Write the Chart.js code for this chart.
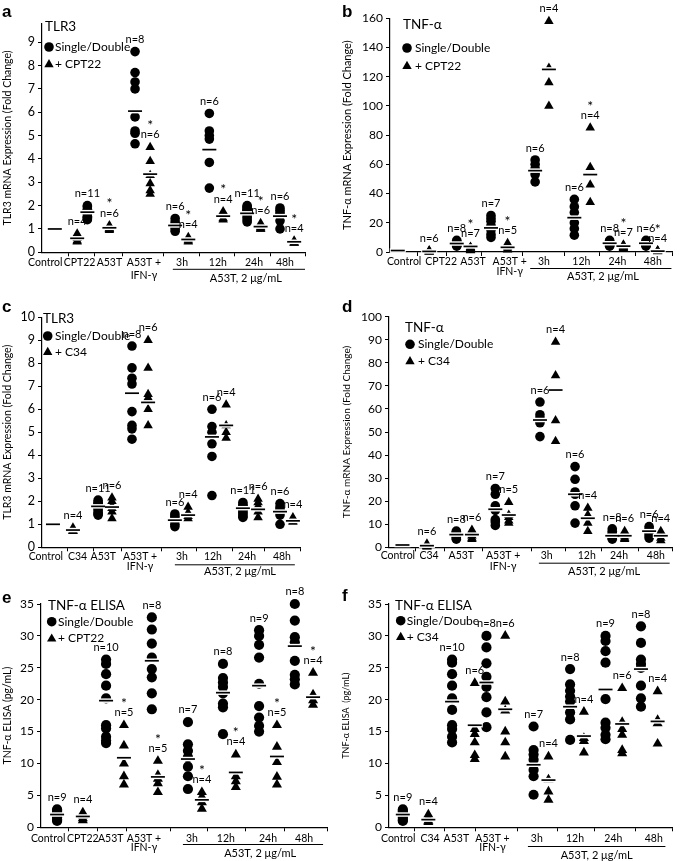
<!DOCTYPE html>
<html>
<head>
<meta charset="utf-8">
<script src="https://cdn.jsdelivr.net/npm/chart.js@4.4.1/dist/chart.umd.min.js"></script>
<style>
  html, body { margin: 0; padding: 0; background: #fff; }
  #wrap { position: relative; width: 685px; height: 861px; overflow: hidden; }
  canvas { position: absolute; }
</style>
</head>
<body>
<div id="wrap">
  <canvas id="pa" style="left:0;top:0"     width="340" height="292"></canvas>
  <canvas id="pb" style="left:340px;top:0" width="345" height="292"></canvas>
  <canvas id="pc" style="left:0;top:285px" width="340" height="295"></canvas>
  <canvas id="pd" style="left:340px;top:285px" width="345" height="295"></canvas>
  <canvas id="pe" style="left:0;top:570px" width="340" height="291"></canvas>
  <canvas id="pf" style="left:340px;top:570px" width="345" height="291"></canvas>
</div>
<script>
// ─── 카테고리 ─────────────────────────────────────────────
const catsCPT = ['Control', 'CPT22', 'A53T', ['A53T +', 'IFN-γ'], '3h', '12h', '24h', '48h'];
const catsC34 = ['Control', 'C34', 'A53T', ['A53T +', 'IFN-γ'], '3h', '12h', '24h', '48h'];
const groupTitle = 'A53T, 2 μg/mL';

// ─── a: TLR3 + CPT22 ──────────────────────────────────────
const aCirc = [[], [],
  [2.0, 1.95, 1.85, 1.8, 1.75, 1.7, 1.65, 1.55, 1.5, 1.45, 1.4],
  [8.6, 7.7, 7.3, 7.0, 5.8, 5.2, 5.1, 4.65],
  [1.45, 1.3, 1.2, 1.1, 1.0, 0.9],
  [5.95, 5.2, 5.0, 4.85, 3.85, 2.75],
  [2.0, 1.95, 1.9, 1.85, 1.8, 1.75, 1.7, 1.6, 1.5, 1.4, 1.3],
  [1.9, 1.8, 1.7, 1.6, 1.35, 1.0]];
const aTri = [[],
  [0.8, 0.6, 0.5, 0.45],
  [1.15, 1.1, 1.05, 1.0, 1.0, 0.95],
  [4.5, 3.9, 3.3, 2.95, 2.65, 2.5],
  [0.65, 0.55, 0.5, 0.45],
  [1.75, 1.6, 1.45, 1.4],
  [1.25, 1.15, 1.1, 1.05, 1.0, 1.0],
  [0.5, 0.45, 0.4, 0.4]];
const aCircMean = [1.0, null, 1.72, 6.05, 1.15, 4.4, 1.67, 1.55];
const aTriMean  = [null, 0.6, 1.05, 3.35, 0.55, 1.55, 1.1, 0.45];
const aCircN = ['', '', 'n=11', 'n=8', 'n=6', 'n=6', 'n=11', 'n=6'];
const aTriN  = ['', 'n=4', 'n=6', 'n=6', 'n=4', 'n=4', 'n=6', 'n=4'];
const aStar  = [0, 0, 1, 1, 1, 1, 1, 1];
const aCircX = [0.39, null, 1.38, 2.83, 4.05, 5.09, 6.24, 7.24];
const aTriX  = [null, 1.07, 2.05, 3.29, 4.45, 5.51, 6.65, 7.67];
const aLabelX = [0.1, 1.14, 2.05, 3.1, 4.26, 5.35, 6.45, 7.39];
const aTickX  = [0.8, 1.6, 2.45, 3.7, 4.78, 5.87, 6.94, 8];

// ─── b: TNF-α + CPT22 ─────────────────────────────────────
const bCirc = [[], [],
  [8, 7, 6.5, 6, 5.5, 5, 4.5, 4],
  [25, 23, 21, 18, 15, 12, 10],
  [63, 60, 57, 55, 53, 48],
  [36, 31, 27, 20, 16, 11.5],
  [8, 7, 6.5, 6, 5.5, 5, 4.5, 4],
  [8, 7, 6, 5, 4.5, 4]];
const bTri = [[],
  [1.0, 0.6, 0.4, 0.3, 0.2, 0.1],
  [3.5, 3, 2.5, 2, 1.5, 1.2, 1],
  [6, 4, 3, 2, 1.5],
  [158, 126, 116, 100],
  [85, 58, 46, 34],
  [5, 4.5, 4, 3.5, 3, 2.5, 2],
  [1, 0.8, 0.5, 0.3]];
const bCircMean = [1, null, 5.8, 16.5, 55.7, 23.5, 6, 6];
const bTriMean  = [null, 0.4, 3.8, 3.2, 125, 53, 4, 0.6];
const bCircN = ['', '', 'n=8', 'n=7', 'n=6', 'n=6', 'n=8', 'n=6'];
const bTriN  = ['', 'n=6', 'n=7', 'n=5', 'n=4', 'n=4', 'n=7', 'n=4'];
const bStar  = [0, 0, 1, 1, 1, 1, 1, 1];
const bCircX = [0.22, null, 1.89, 2.86, 4.11, 5.22, 6.22, 7.25];
const bTriX  = [null, 1.11, 2.28, 3.33, 4.5, 5.67, 6.61, 7.58];
const bLabelX = [0.4, 1.45, 2.35, 3.39, 4.36, 5.42, 6.44, 7.44];
const bTickX  = [0.78, 1.61, 2.58, 3.75, 4.94, 5.94, 6.94, 8];

// ─── c: TLR3 + C34 ────────────────────────────────────────
const cCirc = [[], [],
  [2.05, 1.95, 1.9, 1.85, 1.8, 1.75, 1.7, 1.6, 1.5, 1.45, 1.4],
  [8.75, 7.8, 7.35, 7.1, 5.9, 5.3, 5.15, 4.7],
  [1.45, 1.35, 1.25, 1.15, 1.0, 0.9],
  [6.0, 5.25, 5.0, 4.5, 3.95, 2.25],
  [1.95, 1.85, 1.8, 1.75, 1.7, 1.65, 1.6, 1.5, 1.45, 1.35, 1.3],
  [1.9, 1.75, 1.65, 1.55, 1.4, 1.0]];
const cTri = [[],
  [0.85, 0.75, 0.7, 0.7],
  [2.15, 2.0, 1.8, 1.7, 1.55, 1.25],
  [9.0, 7.8, 6.65, 6.5, 6.0, 5.3],
  [1.75, 1.5, 1.35, 1.25],
  [6.2, 5.3, 5.0, 4.75],
  [2.1, 1.95, 1.8, 1.7, 1.55, 1.3],
  [1.3, 1.2, 1.15, 1.1]];
const cCircMean = [1, null, 1.78, 6.7, 1.18, 4.8, 1.7, 1.55];
const cTriMean  = [null, 0.75, 1.75, 6.3, 1.4, 5.3, 1.65, 1.15];
const cCircN = ['', '', 'n=11', 'n=8', 'n=6', 'n=6', 'n=11', 'n=6'];
const cTriN  = ['', 'n=4', 'n=6', 'n=6', 'n=4', 'n=4', 'n=6', 'n=4'];
const cStar  = [0, 0, 0, 0, 0, 0, 0, 0];
const cCircX = [0.34, null, 1.74, 2.79, 4.12, 5.27, 6.23, 7.38];
const cTriX  = [null, 0.96, 2.17, 3.29, 4.53, 5.71, 6.7, 7.78];
const cLabelX = [0.12, 1.1, 1.9, 3.04, 4.34, 5.3, 6.36, 7.44];
const cTickX  = [0.8, 1.6, 2.45, 3.7, 4.8, 5.9, 6.9, 8];

// ─── d: TNF-α + C34 ───────────────────────────────────────
const dCirc = [[], [],
  [7, 6.5, 6, 5.5, 5, 4.5, 4, 3.5],
  [25.5, 23, 18, 16, 12, 11, 9.5],
  [63, 57.5, 56, 55, 54, 48],
  [35, 29.5, 24, 23, 18, 10.5],
  [8, 7, 6, 5.5, 5, 4.5, 4, 3.5],
  [9, 8, 7, 6, 5, 4]];
const dTri = [[],
  [1.5, 1, 0.8, 0.5, 0.3, 0.2],
  [7.5, 7, 6, 5, 4, 3.5],
  [19.5, 14, 13, 11.5, 10.5],
  [89, 74.5, 55, 46],
  [17, 14, 10.5, 7],
  [7, 6, 5.5, 5, 4, 3.5],
  [7, 6, 4, 3]];
const dCircMean = [1, null, 5.5, 16.5, 55.2, 23, 5, 7];
const dTriMean  = [null, 0.7, 5.5, 14, 68.2, 12.6, 5, 5];
const dCircN = ['', '', 'n=8', 'n=7', 'n=6', 'n=6', 'n=8', 'n=6'];
const dTriN  = ['', 'n=6', 'n=6', 'n=5', 'n=4', 'n=4', 'n=6', 'n=4'];
const dStar  = [0, 0, 0, 0, 0, 0, 0, 0];
const dCircX = [0.38, null, 1.9, 3.0, 4.26, 5.25, 6.3, 7.34];
const dTriX  = [null, 1.07, 2.34, 3.38, 4.7, 5.61, 6.65, 7.67];
const dLabelX = [0.25, 1.13, 2.04, 3.22, 4.45, 5.58, 6.49, 7.53];
const dTickX  = [0.74, 1.57, 2.64, 4.01, 4.98, 5.99, 7.04, 8];

// ─── e: TNF-α ELISA + CPT22 ───────────────────────────────
const eCirc = [
  [2.8, 2.6, 2.4, 2.2, 2.0, 1.8, 1.5, 1.2, 1.0],
  [],
  [26.3, 25.6, 24.0, 22.2, 20.2, 16.0, 15.5, 14.2, 13.6, 13.2],
  [32.9, 31.0, 28.8, 26.6, 24.8, 23.5, 21.0, 18.5],
  [16.5, 13.0, 12.0, 11.0, 9.5, 8.0, 6.0],
  [25.6, 23.4, 22.7, 22.0, 21.0, 19.4, 18.8, 14.6],
  [30.9, 30.0, 28.6, 26.6, 22.5, 19.0, 17.2, 15.9, 15.0],
  [35.0, 32.4, 29.8, 29.0, 26.1, 23.9, 23.2, 22.4]];
const eTri = [[],
  [2.3, 1.8, 1.4, 1.1],
  [16.0, 12.8, 10.0, 8.0, 6.7],
  [10.4, 8.2, 7.6, 6.9, 5.5],
  [5.5, 4.8, 3.9, 2.9],
  [11.4, 8.0, 7.2, 6.3],
  [16.0, 12.6, 10.2, 7.9, 6.7],
  [24.2, 20.8, 19.9, 19.2]];
const eCircMean = [2.0, null, 19.85, 26.1, 10.7, 21.1, 22.2, 28.4];
const eTriMean  = [null, 1.7, 10.9, 7.9, 4.3, 8.6, 11.1, 20.4];
const eCircN = ['n=9', '', 'n=10', 'n=8', 'n=7', 'n=8', 'n=9', 'n=8'];
const eTriN  = ['', 'n=4', 'n=5', 'n=5', 'n=4', 'n=4', 'n=5', 'n=4'];
const eStar  = [0, 0, 1, 1, 1, 1, 1, 1];
const eCircX = [0.45, null, 1.82, 3.1, 4.11, 5.09, 6.1, 7.1];
const eTriX  = [null, 1.17, 2.32, 3.27, 4.5, 5.45, 6.6, 7.61];
const eLabelX = [0.2, 1.17, 1.95, 2.88, 4.22, 5.17, 6.35, 7.36];
const eTickX  = [0.76, 1.57, 2.38, 3.61, 4.67, 5.71, 6.82, 8];

// ─── f: TNF-α ELISA + C34 ─────────────────────────────────
const fCirc = [
  [2.8, 2.6, 2.4, 2.2, 2.0, 1.8, 1.5, 1.2, 1.0],
  [],
  [26.3, 25.8, 24.0, 22.2, 20.2, 18.4, 16.0, 15.4, 14.2, 13.3],
  [30.0, 28.2, 25.7, 23.6, 22.0, 20.4, 18.0, 15.7],
  [15.8, 12.1, 11.4, 10.6, 9.0, 8.0, 5.1],
  [24.8, 22.4, 21.4, 20.5, 19.7, 18.0, 16.9, 13.7],
  [30.0, 29.2, 27.6, 25.8, 20.1, 16.4, 15.6, 14.5, 13.8],
  [31.5, 28.9, 26.3, 25.6, 25.0, 22.2, 20.2, 18.9]];
const fTri = [[],
  [2.0, 1.5, 1.0, 0.8],
  [22.6, 15.4, 14.6, 13.3, 11.3, 10.7],
  [30.0, 19.7, 18.3, 15.0, 13.3, 11.1],
  [11.1, 7.5, 5.6, 4.3],
  [18.1, 14.0, 13.5, 11.7],
  [21.8, 16.5, 15.4, 14.5, 12.1, 11.6],
  [21.3, 16.8, 16.3, 13.1]];
const fCircMean = [2.0, null, 19.7, 22.7, 9.8, 18.9, 21.6, 24.8];
const fTriMean  = [null, 1.2, 16.0, 18.5, 7.4, 14.3, 16.2, 16.6];
const fCircN = ['n=9', '', 'n=10', 'n=8', 'n=7', 'n=8', 'n=9', 'n=8'];
const fTriN  = ['', 'n=4', 'n=6', 'n=6', 'n=4', 'n=4', 'n=6', 'n=4'];
const fStar  = [0, 0, 0, 0, 0, 0, 0, 0];
const fCircX = [0.39, null, 1.78, 2.75, 4.08, 5.11, 6.11, 7.11];
const fTriX  = [null, 1.11, 2.42, 3.28, 4.5, 5.5, 6.58, 7.58];
const fLabelX = [0.26, 1.16, 1.9, 2.92, 4.17, 5.25, 6.33, 7.47];
const fTickX  = [0.72, 1.56, 2.44, 3.64, 4.75, 5.81, 6.97, 8];

// ─────────────────────────────────────────────────────────
const FONT = 'Lato, "Open Sans", sans-serif';

// 그룹별 점 → {x, y}
function pts(groups, xs) {
  const out = [];
  groups.forEach((vals, g) => vals.forEach(v => out.push({ x: xs[g], y: v })));
  return out;
}
function meanPts(ms, xs) {
  return ms.map((m, g) => (m == null ? null : { x: xs[g], y: m })).filter(Boolean);
}

function marker(ctx, kind, x, y, r) {
  ctx.beginPath();
  if (kind === 'circle') {
    ctx.arc(x, y, r, 0, Math.PI * 2);
  } else {
    ctx.moveTo(x, y - r);
    ctx.lineTo(x + r * 0.866, y + r * 0.5);
    ctx.lineTo(x - r * 0.866, y + r * 0.5);
    ctx.closePath();
  }
  ctx.fill();
}

// ─── 텍스트 플러그인 (n=, *, 범례, 카테고리) ───────────────
const panelText = {
  id: 'panelText',
  afterDraw(chart, args, o) {
    const ctx = chart.ctx, xs = chart.scales.x, ys = chart.scales.y, ca = chart.chartArea;
    const d = o.d, L = o.L;
    ctx.save();
    ctx.fillStyle = '#000';
    ctx.strokeStyle = '#000';

    // panel letter
    ctx.font = 'bold 17px "Liberation Sans", Arial, sans-serif';
    ctx.textAlign = 'left';
    ctx.textBaseline = 'middle';
    ctx.fillText(L.letter, 2, L.letterY);

    // legend
    ctx.font = L.legTitleFont + 'px ' + FONT;
    ctx.fillText(L.legTitle, L.legX, L.legY[0]);
    ctx.font = L.legFont + 'px ' + FONT;
    marker(ctx, 'circle', L.legMX, L.legY[1], 4.8);
    ctx.fillText(L.legItems[0], L.legTX, L.legY[1]);
    marker(ctx, 'triangle', L.legMX, L.legY[2] + 0.5, 5.4);
    ctx.fillText(L.legItems[1], L.legTX, L.legY[2]);

    // n labels + stars
    ctx.textAlign = 'center';
    ctx.font = L.nFont + 'px ' + FONT;
    const label = (vals, mean, xv, txt, star, r) => {
      if (!txt) return;
      const top = Math.max(...vals, mean == null ? -Infinity : mean);
      const y = ys.getPixelForValue(top) - r - 7;
      const x = xs.getPixelForValue(xv);
      ctx.textBaseline = 'middle';
      ctx.fillText(txt, x, y);
      if (star) {
        ctx.font = '14px ' + FONT;
        ctx.fillText('*', x, y - 9);
        ctx.font = L.nFont + 'px ' + FONT;
      }
    };
    for (let g = 0; g < 8; g++) {
      label(d.circ[g], d.circMean[g], d.circX[g], d.circN[g], 0, L.r);
      label(d.tri[g], d.triMean[g], d.triX[g], d.triN[g], d.star[g], L.rt);
    }

    // category labels
    ctx.font = L.catFont + 'px ' + FONT;
    ctx.textBaseline = 'middle';
    d.cats.forEach((c, i) => {
      const x = xs.getPixelForValue(d.labelX[i]);
      const lines = Array.isArray(c) ? c : [c];
      lines.forEach((t, k) => ctx.fillText(t, x, ca.bottom + L.catY[k]));
    });

    // bracket line + group title
    const x0 = xs.getPixelForValue(L.under[0]), x1 = xs.getPixelForValue(L.under[1]);
    ctx.lineWidth = 1;
    ctx.beginPath();
    ctx.moveTo(x0, ca.bottom + L.underY + 0.5);
    ctx.lineTo(x1, ca.bottom + L.underY + 0.5);
    ctx.stroke();
    ctx.font = L.groupFont + 'px ' + FONT;
    ctx.fillText(groupTitle, xs.getPixelForValue(L.under[2]), ca.bottom + L.groupY);
    ctx.restore();
  }
};

function makePanel(id, d, L) {
  const meanData = meanPts(d.circMean, d.circX).concat(meanPts(d.triMean, d.triX));
  return new Chart(document.getElementById(id), {
    type: 'scatter',
    data: {
      datasets: [
        { data: meanData, pointStyle: 'line', pointRadius: 7, pointBorderColor: '#000',
          pointBorderWidth: 1.7, order: 0, clip: false },
        { data: meanData, pointStyle: 'line', pointRadius: 8, pointBorderColor: '#fff',
          pointBorderWidth: 4.5, order: 1, clip: false },
        { data: pts(d.circ, d.circX), pointStyle: 'circle', pointRadius: L.r,
          pointBackgroundColor: '#000', pointBorderWidth: 0, order: 2, clip: false },
        { data: pts(d.tri, d.triX), pointStyle: 'triangle', pointRadius: L.rt,
          pointBackgroundColor: '#000', pointBorderWidth: 0, order: 2, clip: false }
      ]
    },
    options: {
      responsive: false,
      animation: false,
      devicePixelRatio: 1,
      events: [],
      layout: { padding: { left: 0, right: L.padR, top: L.padT, bottom: 0 } },
      plugins: { legend: { display: false }, tooltip: { enabled: false }, panelText: { d, L } },
      scales: {
        x: {
          type: 'linear', min: 0, max: 8,
          afterBuildTicks: s => { s.ticks = d.tickX.map(v => ({ value: v })); },
          afterFit: s => { s.height = L.xh; },
          ticks: { display: false },
          grid: { drawOnChartArea: false, drawTicks: true, tickLength: 4, color: '#000', lineWidth: 1 },
          border: { color: '#000', width: 1.2 }
        },
        y: {
          min: 0, max: L.ymax,
          afterFit: s => { s.width = L.yw; },
          ticks: { stepSize: L.step, includeBounds: false, color: '#000', padding: 3,
                   font: { family: FONT, size: L.tickFont } },
          grid: { drawOnChartArea: false, tickLength: 4, color: '#000' },
          border: { color: '#000', width: 1.2 },
          title: { display: true, text: L.ytitle, color: '#000', padding: { top: 1, bottom: 0 },
                   font: { family: FONT, size: L.titleFont } }
        }
      }
    },
    plugins: [panelText]
  });
}

const common = { r: 4.8, rt: 5.5, catFont: 10.5, groupFont: 11, nFont: 11, legFont: 12 };

makePanel('pa',
  { circ: aCirc, tri: aTri, circMean: aCircMean, triMean: aTriMean, circN: aCircN, triN: aTriN,
    star: aStar, circX: aCircX, triX: aTriX, labelX: aLabelX, tickX: aTickX, cats: catsCPT },
  Object.assign({}, common, {
    letter: 'a', letterY: 12, yw: 42, padR: 35, padT: 23.6, xh: 39.7, ymax: 9.8, step: 1,
    tickFont: 12.5, titleFont: 10.5, ytitle: 'TLR3 mRNA Expression (Fold Change)',
    legTitle: 'TLR3', legTitleFont: 13.5, legX: 45, legY: [27, 47, 64], legMX: 49, legTX: 55,
    legItems: ['Single/Double', '+ CPT22'],
    catY: [10.5, 23], under: [3.98, 8, 6.2], underY: 16.5, groupY: 26
  }));

makePanel('pb',
  { circ: bCirc, tri: bTri, circMean: bCircMean, triMean: bTriMean, circN: bCircN, triN: bTriN,
    star: bStar, circX: bCircX, triX: bTriX, labelX: bLabelX, tickX: bTickX, cats: catsCPT },
  Object.assign({}, common, {
    letter: 'b', letterY: 12, yw: 50, padR: 7, padT: 18.3, xh: 40, ymax: 160, step: 20,
    tickFont: 12, titleFont: 11, ytitle: 'TNF-α mRNA Expression (Fold Change)',
    legTitle: 'TNF-α', legTitleFont: 13.5, legX: 63, legY: [25, 48, 65.7], legMX: 67, legTX: 75,
    legItems: ['Single/Double', '+ CPT22'],
    catY: [9.7, 19.7], under: [3.97, 7.97, 6.03], underY: 16, groupY: 24.7
  }));

makePanel('pc',
  { circ: cCirc, tri: cTri, circMean: cCircMean, triMean: cTriMean, circN: cCircN, triN: cTriN,
    star: cStar, circX: cCircX, triX: cTriX, labelX: cLabelX, tickX: cTickX, cats: catsC34 },
  Object.assign({}, common, {
    letter: 'c', letterY: 22, yw: 42, padR: 40, padT: 32.3, xh: 32.7, ymax: 10, step: 1,
    tickFont: 12.5, titleFont: 10.5, ytitle: 'TLR3 mRNA Expression (Fold Change)',
    legTitle: 'TLR3', legTitleFont: 13.5, legX: 43, legY: [33.3, 51, 66.7], legMX: 47.7, legTX: 55,
    legItems: ['Single/Double', '+ C34'],
    catY: [9.4, 19.4], under: [4.12, 7.84, 6.14], underY: 17, groupY: 24.4
  }));

makePanel('pd',
  { circ: dCirc, tri: dTri, circMean: dCircMean, triMean: dTriMean, circN: dCircN, triN: dTriN,
    star: dStar, circX: dCircX, triX: dTriX, labelX: dLabelX, tickX: dTickX, cats: catsC34 },
  Object.assign({}, common, {
    letter: 'd', letterY: 22, yw: 49, padR: 5, padT: 31.7, xh: 32.7, ymax: 100, step: 10,
    tickFont: 12, titleFont: 10, ytitle: 'TNF-α mRNA Expression (Fold Change)',
    legTitle: 'TNF-α', legTitleFont: 13.5, legX: 65, legY: [42.7, 59.3, 76], legMX: 70, legTX: 78,
    legItems: ['Single/Double', '+ C34'],
    catY: [8.7, 19.4], under: [4.23, 7.92, 6.07], underY: 15.4, groupY: 24.4
  }));

makePanel('pe',
  { circ: eCirc, tri: eTri, circMean: eCircMean, triMean: eTriMean, circN: eCircN, triN: eTriN,
    star: eStar, circX: eCircX, triX: eTriX, labelX: eLabelX, tickX: eTickX, cats: catsCPT },
  Object.assign({}, common, {
    r: 5.1, rt: 5.8,
    letter: 'e', letterY: 28, yw: 41, padR: 13, padT: 34, xh: 33.7, ymax: 35, step: 5,
    tickFont: 12, titleFont: 10.5, ytitle: 'TNF-α ELISA (pg/mL)',
    legTitle: 'TNF-α ELISA', legTitleFont: 13.5, legX: 48, legY: [36, 51.7, 68.3], legMX: 51.7, legTX: 58,
    legItems: ['Single/Double', '+ CPT22'],
    catY: [11, 20.5], under: [3.97, 7.89, 6.13], underY: 16.7, groupY: 26
  }));

makePanel('pf',
  { circ: fCirc, tri: fTri, circMean: fCircMean, triMean: fTriMean, circN: fCircN, triN: fTriN,
    star: fStar, circX: fCircX, triX: fTriX, labelX: fLabelX, tickX: fTickX, cats: catsC34 },
  Object.assign({}, common, {
    r: 5.1, rt: 5.8,
    letter: 'f', letterY: 26, yw: 49, padR: 8, padT: 34, xh: 33.7, ymax: 35, step: 5,
    tickFont: 12, titleFont: 9, ytitle: 'TNF-α ELISA  (pg/mL)',
    legTitle: 'TNF-α ELISA', legTitleFont: 13.5, legX: 55, legY: [36, 50.7, 66.7], legMX: 60.7, legTX: 66.7,
    legItems: ['Single/Doube', '+ C34'],
    catY: [11, 20.5], under: [3.92, 7.8, 5.86], underY: 18.7, groupY: 27.7
  }));
</script>
</body>
</html>
